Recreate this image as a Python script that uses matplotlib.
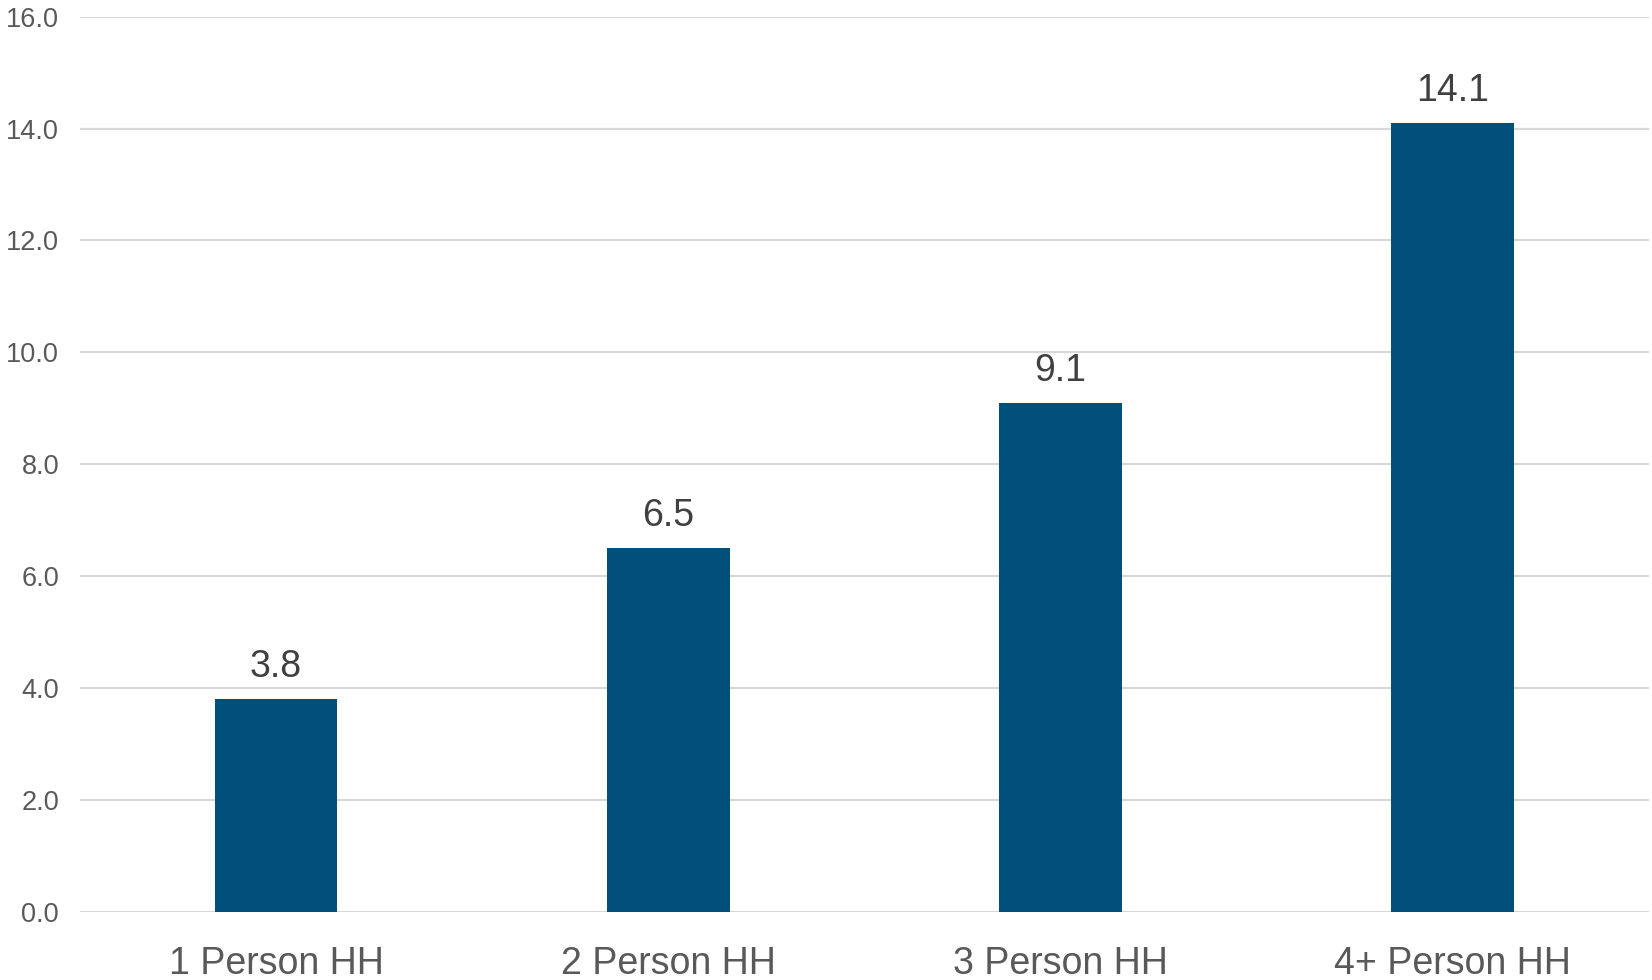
import numpy as np
import matplotlib
matplotlib.use('Agg')
import matplotlib.pyplot as plt

categories = ['1 Person HH', '2 Person HH', '3 Person HH', '4+ Person HH']
values = [3.8, 6.5, 9.1, 14.1]
yticks = [0, 2, 4, 6, 8, 10, 12, 14, 16]

plt.rcParams['font.family'] = ['Liberation Sans', 'DejaVu Sans']

fig = plt.figure(figsize=(16.52, 9.8), dpi=100)
ax = fig.add_axes([0.0484, 0.0697, 0.9496, 0.9133])

x = np.arange(len(categories))
bars = ax.bar(x, values, width=0.313, color='#00507C', zorder=3)

for xi, v in zip(x, values):
    ax.text(xi, v + 0.25, f'{v:.1f}', ha='center', va='bottom',
            fontsize=27, color='#404040')

ax.set_xlim(-0.5, len(categories) - 0.5)
ax.set_ylim(0, 16)
ax.set_yticks(yticks)
ax.set_yticklabels([f'{t:.1f}' for t in yticks])
ax.set_xticks(x)
ax.set_xticklabels(categories)

ax.grid(axis='y', color='#D9D9D9', linewidth=1.6, zorder=0)
for s in ax.spines.values():
    s.set_visible(False)
ax.tick_params(axis='y', length=0, pad=15, labelsize=19.5, labelcolor='#595959')
ax.tick_params(axis='x', length=0, pad=25, labelsize=27, labelcolor='#595959')

fig.savefig('out.png', dpi=100)
